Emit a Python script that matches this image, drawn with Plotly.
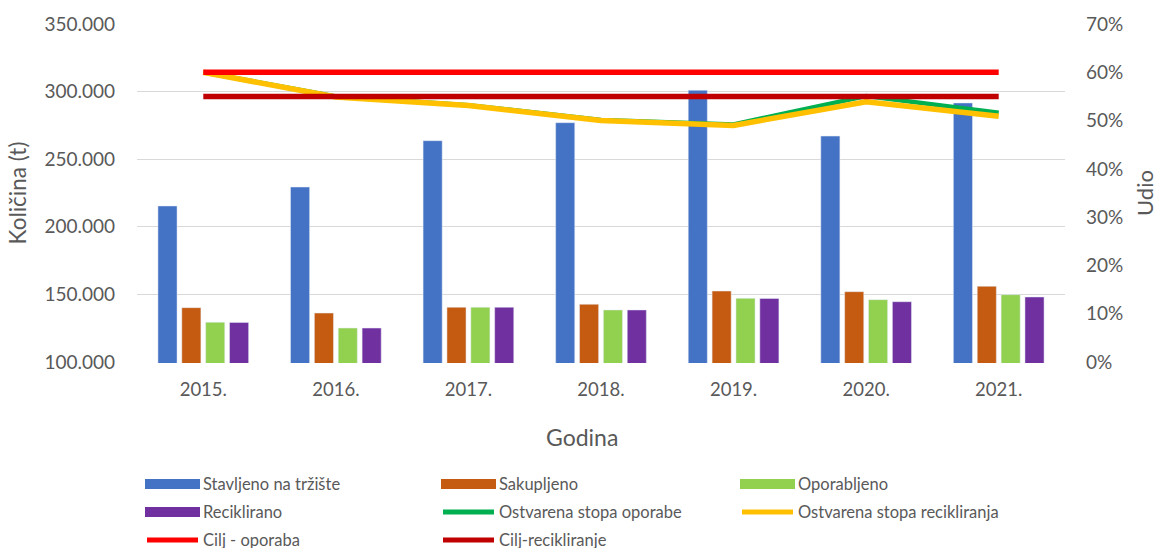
import plotly.graph_objects as go

years = ["2015.", "2016.", "2017.", "2018.", "2019.", "2020.", "2021."]
stavljeno = [215400, 229400, 263700, 277000, 301000, 267100, 291600]
sakupljeno = [140200, 136200, 140500, 142700, 152500, 152000, 156000]
oporabljeno = [129400, 125100, 140500, 138500, 147100, 146100, 149800]
reciklirano = [129300, 125100, 140500, 138500, 147000, 144600, 148100]
stopa_oporabe = [0.600, 0.550, 0.532, 0.501, 0.492, 0.551, 0.516]
stopa_recikliranja = [0.600, 0.549, 0.531, 0.500, 0.490, 0.539, 0.509]
cilj_oporaba = [0.60, 0.60, 0.60, 0.60, 0.60, 0.60, 0.60]
cilj_recikliranje = [0.55, 0.55, 0.55, 0.55, 0.55, 0.55, 0.55]

bar_series = [
    ("Stavljeno na tržište", stavljeno, "#4472C4"),
    ("Sakupljeno", sakupljeno, "#C55A11"),
    ("Oporabljeno", oporabljeno, "#92D050"),
    ("Reciklirano", reciklirano, "#7030A0"),
]
line_series = [
    ("Ostvarena stopa oporabe", stopa_oporabe, "#00B050", 4.5),
    ("Ostvarena stopa recikliranja", stopa_recikliranja, "#FFC000", 5.5),
    ("Cilj - oporaba", cilj_oporaba, "#FF0000", 5.5),
    ("Cilj-recikliranje", cilj_recikliranje, "#C00000", 5.5),
]

FONT = "Lato"
GREY = "#595959"

fig = go.Figure()
for name, vals, col in bar_series:
    fig.add_trace(go.Bar(x=years, y=vals, name=name, marker_color=col,
                         showlegend=False))
for name, vals, col, w in line_series:
    fig.add_trace(go.Scatter(x=years, y=vals, name=name, yaxis="y2",
                             mode="lines", line=dict(color=col, width=w),
                             showlegend=False))

# plot area in pixels (1px padding above/below so edge gridlines are drawn)
W, H = 1158, 548
L, R, T, B = 137, 1065, 23, 363
PPX = 338.0 / 250000.0  # pixels per tonne
pad_t = 1.0 / PPX
PPX2 = 338.0 / 0.7
pad_p = 1.0 / PPX2

def px(xp):
    return (xp - L) / (R - L)

def py(yp):
    return (B - yp) / (B - T)

# manual legend (3 columns)
entries = [(n, c, "bar") for n, _, c in bar_series] + \
          [(n, c, "line") for n, _, c, _ in line_series]
col_x = [145, 441, 740]
row_y = [484, 512, 540]
shapes = []
annotations = []
for i, (name, col, kind) in enumerate(entries):
    cx = col_x[i % 3]
    ry = row_y[i // 3]
    if kind == "bar":
        shapes.append(dict(type="rect", xref="paper", yref="paper",
                           x0=px(cx), x1=px(cx + 55), y0=py(ry + 5), y1=py(ry - 5),
                           fillcolor=col, line=dict(width=0)))
    else:
        shapes.append(dict(type="line", xref="paper", yref="paper",
                           x0=px(cx + 2), x1=px(cx + 53), y0=py(ry), y1=py(ry),
                           line=dict(color=col, width=5)))
    annotations.append(dict(text=name, xref="paper", yref="paper",
                            x=px(cx + 56), y=py(ry), xanchor="left", yanchor="middle",
                            showarrow=False, font=dict(family=FONT, size=16.5, color=GREY)))

annotations.append(dict(text="Godina", xref="paper", yref="paper",
                        x=px(582), y=py(437), xanchor="center", yanchor="middle",
                        showarrow=False, font=dict(family=FONT, size=23, color=GREY)))

fig.update_layout(
    width=W, height=H,
    margin=dict(l=L, r=W - R, t=T, b=H - B, autoexpand=False),
    paper_bgcolor="white", plot_bgcolor="white",
    barmode="group", bargap=0.28, bargroupgap=0.2,
    separators=",.",
    font=dict(family=FONT, color=GREY),
    shapes=shapes, annotations=annotations,
    xaxis=dict(type="category", showgrid=False, showline=False, ticks="",
               tickfont=dict(size=18.5, color=GREY), ticklabelstandoff=13,
               automargin=False),
    yaxis=dict(range=[100000 - pad_t, 350000 + pad_t], tick0=100000, dtick=50000,
               tickformat=",.0f",
               showgrid=True, gridcolor="#D9D9D9", gridwidth=1, zeroline=False,
               showline=False, ticks="", tickfont=dict(size=19, color=GREY),
               ticklabelstandoff=21,
               title=dict(text="Količina (t)", font=dict(size=22.5, color=GREY), standoff=11),
               automargin=False),
    yaxis2=dict(range=[0 - pad_p, 0.7 + pad_p], tick0=0, dtick=0.1, tickformat=".0%",
                overlaying="y",
                side="right", showgrid=False, zeroline=False, showline=False,
                ticks="", tickfont=dict(size=19, color=GREY), ticklabelstandoff=20,
                title=dict(text="Udio", font=dict(size=22, color=GREY), standoff=15),
                automargin=False),
)

fig.write_html("out.html", config={"displayModeBar": False},
               post_script="document.body.style.margin='0';document.body.style.padding='0';")
